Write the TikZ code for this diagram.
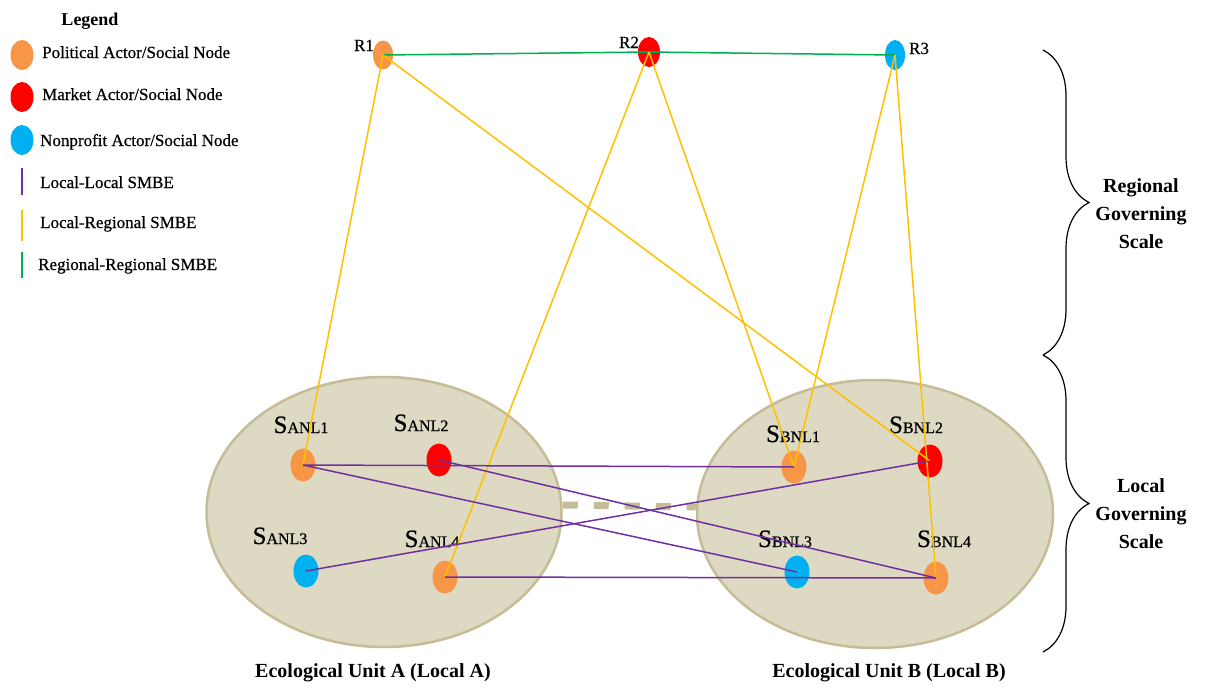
\documentclass[tikz,border=0pt]{standalone}
\usepackage{fontspec}
\setmainfont{Liberation Serif}
\newfontfamily\heavyserif[FakeBold=0.6]{Liberation Serif}
\usetikzlibrary{shapes.geometric,decorations.pathreplacing}

\definecolor{polorange}{HTML}{F79646}
\definecolor{mktred}{HTML}{FF0000}
\definecolor{npblue}{HTML}{00B0F0}
\definecolor{llpurple}{HTML}{7030A0}
\definecolor{lryellow}{HTML}{FFC000}
\definecolor{rrgreen}{HTML}{00B050}
\definecolor{unitfill}{HTML}{DDD9C3}
\definecolor{unitedge}{HTML}{C4BD97}

% label of a local social node: big S, then small capitals
\newcommand{\snlabel}[2]{S{\fontsize{16}{16}\selectfont #1NL#2}}

\begin{document}
\begin{tikzpicture}[x=1pt,y=-1pt,
    actor/.style={ellipse, minimum width=25pt, minimum height=33pt, inner sep=0pt},
    pol/.style={actor, fill=polorange},
    mkt/.style={actor, fill=mktred},
    npo/.style={actor, fill=npblue},
    unit/.style={ellipse, draw=unitedge, line width=2.5pt, fill=unitfill,
        minimum width=355pt, minimum height=270pt},
    lbl/.style={anchor=base, inner sep=0pt, font=\heavyserif\fontsize{25}{25}\selectfont},
    rlbl/.style={anchor=base, inner sep=0pt, font=\heavyserif\fontsize{17}{17}\selectfont},
    ll/.style={llpurple, line width=1.5pt},
    lr/.style={lryellow, line width=1.5pt},
    rr/.style={rrgreen, line width=1.5pt},
    legtxt/.style={anchor=base west, inner sep=0pt, font=\heavyserif\fontsize{17}{17}\selectfont},
    scaletxt/.style={align=center, font=\bfseries\fontsize{20}{28}\selectfont},
    unittxt/.style={font=\bfseries\fontsize{20}{20}\selectfont},
    scalebrace/.style={line width=1.2pt, decorate, decoration={brace, amplitude=46pt}},
    ]
    \useasboundingbox (0,0) rectangle (1205,688);

    % LEGEND
    \node[font=\bfseries\fontsize{18}{18}\selectfont, anchor=base] (legtitle) at (90,25) {Legend};
    \node[pol, minimum width=23pt, minimum height=30pt] (legpol) at (22,55) {};
    \node[mkt, minimum width=23pt, minimum height=30pt] (legmkt) at (22,97) {};
    \node[npo, minimum width=23pt, minimum height=30pt] (legnpo) at (22,140) {};
    \node[legtxt] (tpol) at (42,58) {Political Actor/Social Node};
    \node[legtxt] (tmkt) at (42,100) {Market Actor/Social Node};
    \node[legtxt] (tnpo) at (40,146) {Nonprofit Actor/Social Node};
    \coordinate (llA) at (22,168);
    \coordinate (llB) at (22,195);
    \coordinate (lrA) at (22,210);
    \coordinate (lrB) at (22,241);
    \coordinate (rrA) at (22,252);
    \coordinate (rrB) at (22,278);
    \draw[ll] (llA) -- (llB);
    \draw[lr] (lrA) -- (lrB);
    \draw[rr] (rrA) -- (rrB);
    \node[legtxt] (tll) at (40,188) {Local-Local SMBE};
    \node[legtxt] (tlr) at (40,228) {Local-Regional SMBE};
    \node[legtxt] (trr) at (38,270) {Regional-Regional SMBE};

    % ECOLOGICAL UNITS
    \node[unit] (unitA) at (384,512) {};
    \node[unit, minimum width=356pt, minimum height=268pt] (unitB) at (875,514) {};
    \draw[unitedge, line width=7pt, dash pattern=on 15pt off 16pt]
        ([yshift=7pt]unitA.east) -- ([yshift=7pt]unitB.west);
    \node[unittxt] (tunitA) at (373,673) {Ecological Unit A (Local A)};
    \node[unittxt] (tunitB) at (889,673) {Ecological Unit B (Local B)};

    % regional nodes
    \node[pol, minimum width=20pt, minimum height=29pt] (R1) at (383,55) {};
    \node[mkt, minimum width=22pt, minimum height=30pt] (R2) at (649,52) {};
    \node[npo, minimum width=20pt, minimum height=30pt] (R3) at (895,55) {};
    \node[rlbl] (tR1) at (364,51) {R1};
    \node[rlbl] (tR2) at (629,48) {R2};
    \node[rlbl] (tR3) at (919,54) {R3};

    % local nodes A
    \node[pol] (A1) at (303,465) {};
    \node[mkt] (A2) at (439,460) {};
    \node[npo] (A3) at (306,571) {};
    \node[pol] (A4) at (445,577) {};
    \node[lbl] (tA1) at (301,433) {\snlabel{A}{1}};
    \node[lbl] (tA2) at (421,431) {\snlabel{A}{2}};
    \node[lbl] (tA3) at (280,544) {\snlabel{A}{3}};
    \node[lbl] (tA4) at (432,547) {\snlabel{A}{4}};

    % local nodes B
    \node[pol] (B1) at (794,467) {};
    \node[mkt] (B2) at (930,461) {};
    \node[npo] (B3) at (797,572) {};
    \node[pol] (B4) at (936,578) {};
    \node[lbl] (tB1) at (793,442) {\snlabel{B}{1}};
    \node[lbl] (tB2) at (916,433) {\snlabel{B}{2}};
    \node[lbl] (tB3) at (785,547) {\snlabel{B}{3}};
    \node[lbl] (tB4) at (944,547) {\snlabel{B}{4}};

    % Regional-Regional
    \draw[rr] (R1.center) -- (R2.center);
    \draw[rr] (R2.center) -- (R3.center);

    % Local-Regional
    \draw[lr] (R1.center) -- (A1.center);
    \draw[lr] (R1.center) -- (B2.center);
    \draw[lr] (R2.center) -- (A4.center);
    \draw[lr] (R2.center) -- (B1.center);
    \draw[lr] (R3.center) -- (B1.center);
    \draw[lr] (R3.center) -- (B4.center);

    % Local-Local
    \draw[ll] (A1.center) -- (B1.center);
    \draw[ll] (A1.center) -- (B3.center);
    \draw[ll] (A2.center) -- (B4.center);
    \draw[ll] (A3.center) -- (B2.center);
    \draw[ll] (A4.center) -- (B4.center);

    % governing scales
    \coordinate (brtop) at (1043,50);
    \coordinate (brmid) at (1043,355);
    \coordinate (brbot) at (1043,652);
    \draw[scalebrace] (brtop) -- (brmid);
    \draw[scalebrace] (brmid) -- (brbot);
    \node[scaletxt] (tregional) at (1141,214) {Regional\\Governing\\Scale};
    \node[scaletxt] (tlocal) at (1141,514) {Local\\Governing\\Scale};
\end{tikzpicture}
\end{document}
